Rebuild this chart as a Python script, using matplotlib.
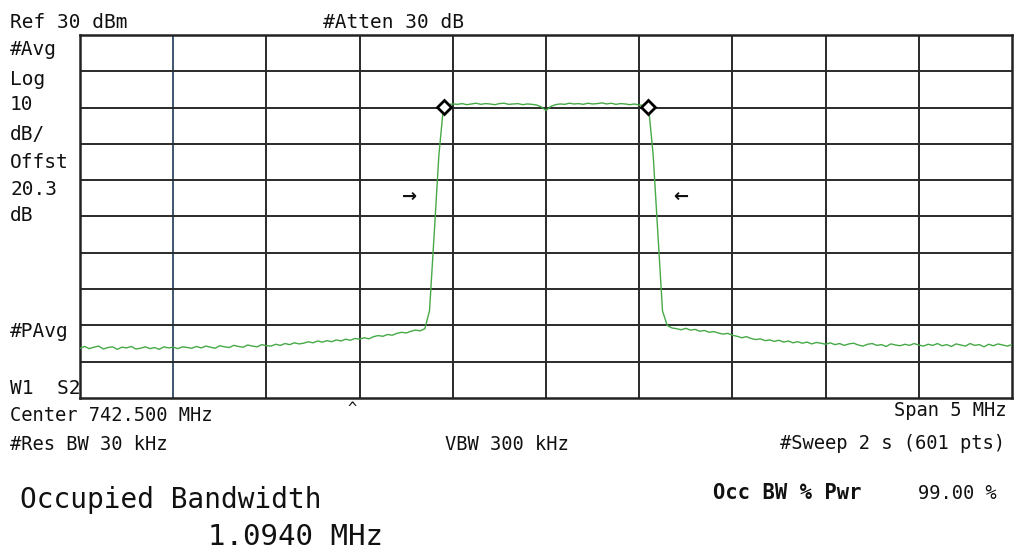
import numpy as np
import matplotlib.pyplot as plt

# sweep settings
center_mhz = 742.5
span_mhz = 5.0
ref_dbm = 30
db_per_div = 10

# averaged trace, dBm, 201 samples across the span
floor_left = [-56.3, -55.8, -56.4, -56.0, -55.7, -56.5, -56.1, -55.9, -56.6, -56.0, -56.2,
              -55.8, -56.5, -56.3, -55.9, -56.4, -56.1, -56.6, -55.9, -56.2, -56.0,
              -56.4, -55.9, -56.1, -56.3, -55.8, -56.2, -55.7, -56.0, -56.3, -55.6,
              -55.9, -56.1, -55.5, -55.8, -56.0, -55.4, -55.7, -55.9, -55.3, -55.6,
              -55.7, -55.2, -55.5, -55.0, -55.3, -54.8, -55.1, -54.9, -54.5, -54.8,
              -54.3, -54.6, -54.2, -54.5, -54.0, -54.3, -53.8, -54.1, -53.6, -53.8,
              -53.4, -53.7, -53.1, -52.8, -53.0, -52.5, -52.7, -52.2, -51.9, -52.1,
              -51.6, -51.3, -51.5, -50.9]
rise = [-46.0, -25.0, -3.3]
plateau = [10.3,
           10.8, 11.0, 10.9, 11.1, 10.8, 11.0, 11.2, 10.9, 11.1, 11.0, 10.8,
           11.1, 11.2, 10.9, 11.0, 11.1, 10.8, 11.0, 10.9, 10.7, 10.2,
           9.2,
           10.3, 10.8, 11.0, 10.9, 11.2, 11.0, 11.1, 10.9, 11.2, 11.0, 11.1,
           11.3, 11.0, 11.2, 10.9, 11.1, 11.0, 10.8, 11.0, 10.7, 10.6,
           10.2]
fall = [-3.1, -24.8, -46.0]
floor_right = [-50.0, -50.7, -50.9, -51.2, -50.8, -51.3, -51.1, -51.6, -51.4, -51.9,
               -51.7, -52.1, -52.4, -52.2, -52.7,
               -53.0, -53.4, -53.1, -53.6, -53.9, -53.7, -54.2, -54.0, -54.4, -54.1,
               -54.6, -54.3, -54.8, -54.5, -54.9, -54.6, -55.1, -54.7, -54.9, -55.2,
               -54.8, -55.3, -55.0, -55.5, -55.1, -54.9, -55.4, -55.7, -55.2, -55.0,
               -55.5, -55.3, -55.8, -55.1, -55.4, -55.6, -55.2, -55.5, -55.0, -55.4,
               -55.7, -55.2, -55.5, -55.0, -55.6, -55.3, -55.8, -55.1, -55.4, -55.7,
               -55.0, -55.5, -55.3, -55.9, -55.2, -55.6, -55.1, -55.4, -55.7, -55.3]
trace_dbm = floor_left + rise + plateau + fall + floor_right

# occupied bandwidth markers
occ_bw_mhz = 1.0940
marker_dbm = [10.3, 10.3]
arrow_dbm = -14.6
arrow_mhz = [741.77, 743.22]

W, H = 1015, 551
fig = plt.figure(figsize=(W / 100, H / 100), dpi=100)
fig.patch.set_facecolor('white')
ax = fig.add_axes([80 / W, 1 - 398 / H, (1012 - 80) / W, (398 - 35) / H])

f_start = center_mhz - span_mhz / 2
f_stop = center_mhz + span_mhz / 2
freq = np.linspace(f_start, f_stop, len(trace_dbm))

ax.set_xlim(f_start, f_stop)
ax.set_ylim(ref_dbm - 10 * db_per_div, ref_dbm)

# graticule
grid_c = '#2a2a2a'
for i, fx in enumerate(np.linspace(f_start, f_stop, 11)[1:-1]):
    ax.axvline(fx, color='#3d5670' if i == 0 else grid_c, lw=1.4, zorder=1)
for ly in np.arange(ref_dbm - 9 * db_per_div, ref_dbm, db_per_div):
    ax.axhline(ly, color=grid_c, lw=1.4, zorder=1)
for s in ax.spines.values():
    s.set_color('#222222')
    s.set_linewidth(1.8)
ax.set_xticks([])
ax.set_yticks([])

ax.plot(freq, trace_dbm, color='#46a946', lw=1.0, zorder=3)

mk = [center_mhz - occ_bw_mhz / 2, center_mhz + occ_bw_mhz / 2]
ax.plot(mk, marker_dbm, ls='none', marker='D', ms=7, mfc='white', mec='black',
        mew=2, zorder=4)
ax.text(arrow_mhz[0], arrow_dbm, '→', ha='center', va='center', fontsize=13,
        fontweight='bold', color='#111111')
ax.text(arrow_mhz[1], arrow_dbm, '←', ha='center', va='center', fontsize=13,
        fontweight='bold', color='#111111')


def label(x, y, s, size=13.5, ha='left', weight='normal'):
    fig.text(x / W, 1 - y / H, s, ha=ha, va='baseline', fontsize=size,
             family='DejaVu Sans Mono', fontweight=weight, color='#111111')


label(10, 28, 'Ref 30 dBm', 14)
label(323, 28, '#Atten 30 dB', 14)
side = [('#Avg', 55), ('Log', 85), ('10', 110), ('dB/', 140), ('Offst', 168),
        ('20.3', 195), ('dB', 221), ('#PAvg', 337), ('W1  S2', 394)]
for s, y in side:
    label(10, y, s, 14)
label(352, 413, '^', 11, ha='center')
label(10, 421, 'Center 742.500 MHz')
label(1007, 416, 'Span 5 MHz', ha='right')
label(10, 450, '#Res BW 30 kHz')
label(445, 450, 'VBW 300 kHz')
label(1005, 449, '#Sweep 2 s (601 pts)', ha='right')
label(20, 508, 'Occupied Bandwidth', 20)
label(208, 545, f'{occ_bw_mhz:.4f} MHz', 21)
label(713, 499, 'Occ BW % Pwr', 14.8, weight='bold')
label(918, 499, '99.00 %', 13.5)

fig.savefig('out.png', dpi=100, facecolor='white')
